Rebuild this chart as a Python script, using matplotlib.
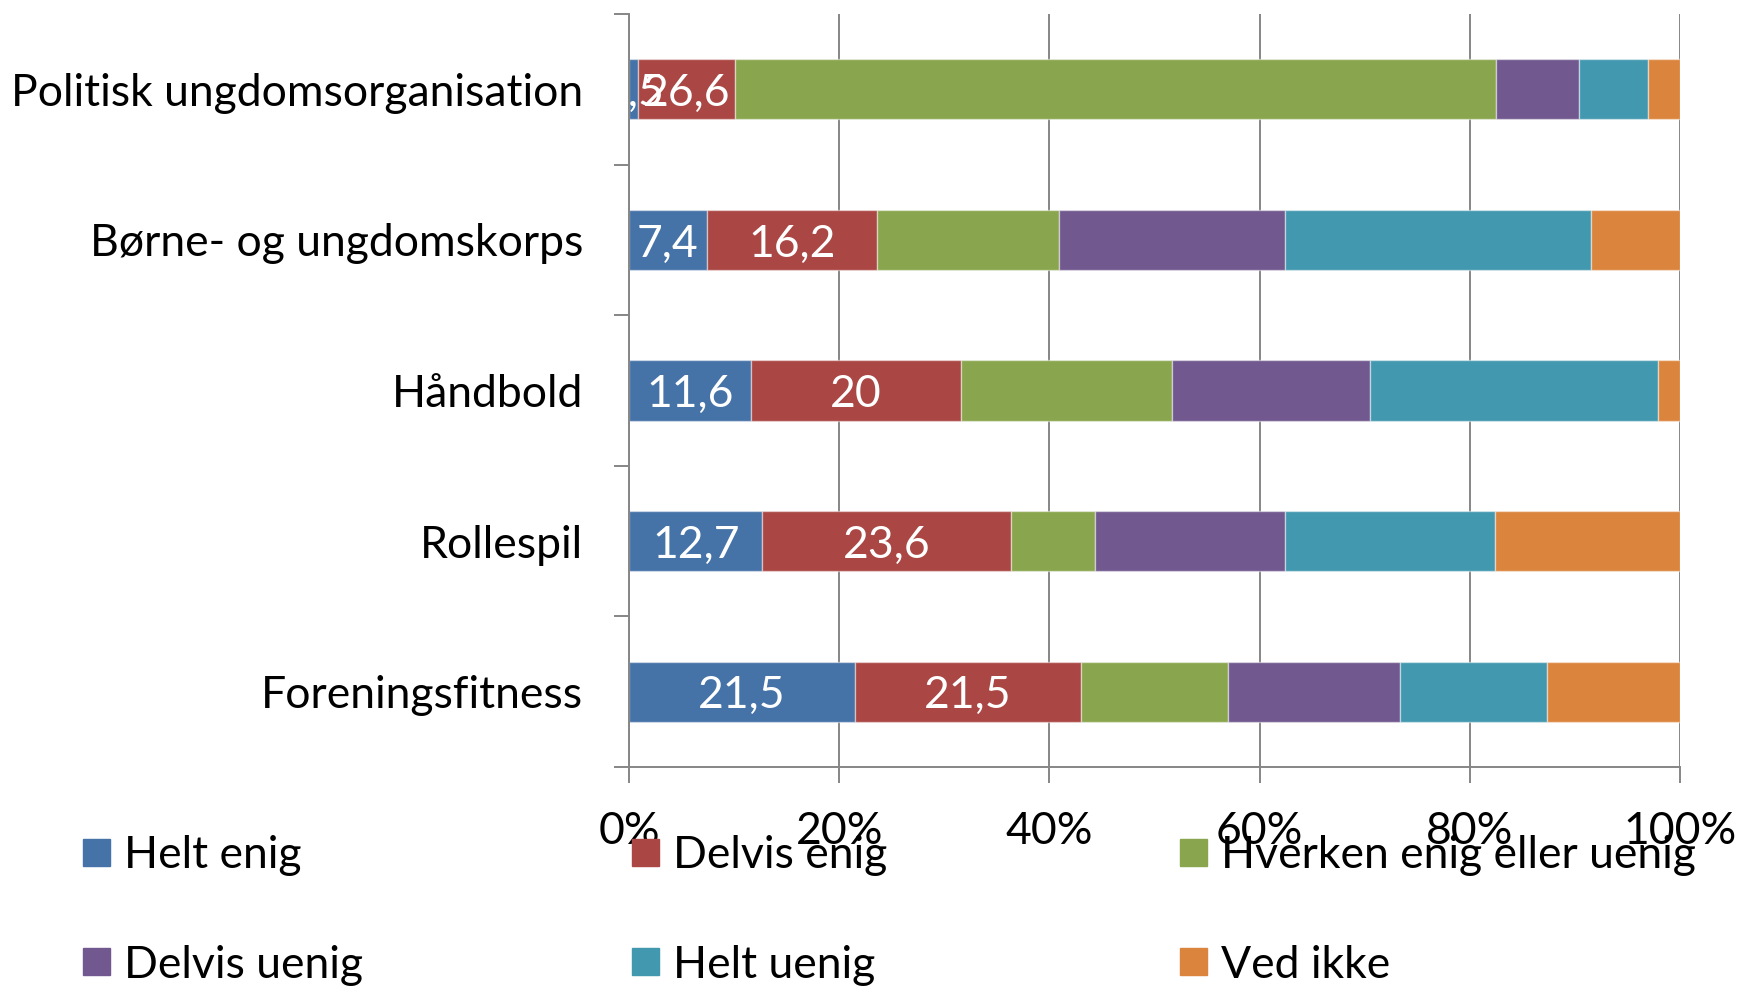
import matplotlib
matplotlib.use("Agg")
import matplotlib.pyplot as plt
from matplotlib.patches import Rectangle
from matplotlib.transforms import offset_copy
import numpy as np

plt.rcParams['font.family'] = ['Lato', 'DejaVu Sans']

# data (raw values, each row is shown as 100%)
categories = ["Politisk ungdomsorganisation", "Børne- og ungdomskorps",
              "Håndbold", "Rollespil", "Foreningsfitness"]
series_names = ["Helt enig", "Delvis enig", "Hverken enig eller uenig",
                "Delvis uenig", "Helt uenig", "Ved ikke"]
helt_enig = [2.5, 7.4, 11.6, 12.7, 21.5]
delvis_enig = [26.6, 16.2, 20, 23.6, 21.5]
hverken = [209.5, 17.3, 20.1, 8.0, 14.0]
delvis_uenig = [22.8, 21.5, 18.9, 18.1, 16.4]
helt_uenig = [19.0, 29.1, 27.4, 20.0, 13.9]
ved_ikke = [8.9, 8.5, 2.1, 17.6, 12.7]
colors = ["#4572A7", "#AA4643", "#89A54E", "#71588F", "#4198AF", "#DB843D"]
labelled = [True, True, False, False, False, False]  # only first two series have data labels

series = [helt_enig, delvis_enig, hverken, delvis_uenig, helt_uenig, ved_ikke]
raw = np.array(series, dtype=float)
share = raw / raw.sum(axis=0) * 100

FS = 32
grid_col = "#868686"

fig = plt.figure(figsize=(17.38, 9.86), dpi=100)
ax = fig.add_axes([629/1738, 1-767/986, (1680-629)/1738, (767-14)/986])
lab_tr = offset_copy(ax.transData, fig=fig, x=0, y=-3, units="points")

y = np.arange(len(categories))
left = np.zeros(len(categories))
for i, name in enumerate(series_names):
    ax.barh(y, share[i], left=left, height=0.4, color=colors[i],
            edgecolor=(1, 1, 1, 0.45), linewidth=1.0, label=name, zorder=2)
    if labelled[i]:
        for j in range(len(categories)):
            txt = f"{raw[i][j]:g}".replace(".", ",")
            ax.text(left[j] + share[i][j]/2, y[j], txt, transform=lab_tr,
                    ha="center", va="center", color="white", fontsize=FS, zorder=5)
    left += share[i]

ax.set_xlim(0, 100)
ax.set_ylim(len(categories)-0.5, -0.5)
ax.set_xticks(np.arange(0, 101, 20))
ax.set_xticklabels([f"{t}%" for t in range(0, 101, 20)])
ax.set_yticks(y)
ax.set_yticklabels(categories)
ax.set_yticks(np.arange(-0.5, len(categories), 1), minor=True)
ax.tick_params(axis="y", which="major", length=0, pad=33, labelsize=FS)
ax.tick_params(axis="y", which="minor", length=11, width=1.4, color=grid_col)
ax.tick_params(axis="x", which="major", length=11.5, width=1.4, color=grid_col,
               pad=20, labelsize=FS)
ax.grid(axis="x", color=grid_col, linewidth=1.4, zorder=0)
ax.set_axisbelow(True)
for s in ["top", "right"]:
    ax.spines[s].set_visible(False)
for s in ["left", "bottom"]:
    ax.spines[s].set_color(grid_col)
    ax.spines[s].set_linewidth(1.4)

# legend in three evenly spaced columns, drawn from the series list
col_x = [83, 632, 1180]
row_y = [856, 965]
W, H = 1738, 986
for i, name in enumerate(series_names):
    cx = col_x[i % 3]
    cy = row_y[i // 3]
    fig.patches.append(Rectangle((cx/W, 1-(cy+10)/H), 27/W, 27/H,
                                 transform=fig.transFigure, color=colors[i]))
    fig.text((cx+41)/W, 1-cy/H, name, fontsize=FS, va="center", ha="left")

fig.savefig("out.png", dpi=100)
